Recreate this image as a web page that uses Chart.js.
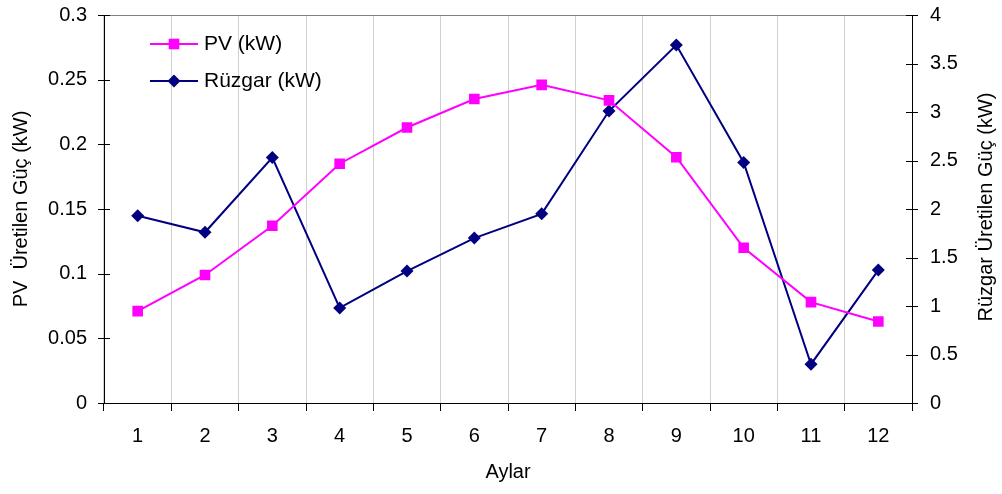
<!DOCTYPE html>
<html>
<head>
<meta charset="utf-8">
<script src="https://cdn.jsdelivr.net/npm/chart.js@4.4.1/dist/chart.umd.min.js"></script>
<style>
  body { margin: 0; background: #fff; }
  #kutu { width: 1002px; height: 494px; }
</style>
</head>
<body>
<div id="kutu"><canvas id="grafik"></canvas></div>
<script>
var aylar = ["1", "2", "3", "4", "5", "6", "7", "8", "9", "10", "11", "12"];
var pvGuc = [0.071, 0.099, 0.137, 0.185, 0.213, 0.235, 0.246, 0.234, 0.190, 0.120, 0.078, 0.063];
var ruzgarGuc = [1.93, 1.76, 2.53, 0.98, 1.36, 1.70, 1.95, 3.01, 3.69, 2.48, 0.40, 1.37];

var yazi = '"Liberation Sans", Arial, sans-serif';
Chart.defaults.font.family = yazi;
Chart.defaults.font.size = 20;
Chart.defaults.color = "#000";

function sayiYaz(v) {
    return String(parseFloat(Number(v).toFixed(2)));
}

// legend inside plot, right axis title, y tick marks (both sides), top frame line
var ekler = {
    id: "ekler",
    afterDraw: function (chart) {
        var ctx = chart.ctx;
        var alan = chart.chartArea;
        ctx.save();

        ctx.strokeStyle = "#808080";
        ctx.lineWidth = 1;
        ctx.beginPath();
        ctx.moveTo(alan.left, alan.top + 0.5);
        ctx.lineTo(alan.right, alan.top + 0.5);
        ctx.stroke();

        ctx.strokeStyle = "#000";
        ["y", "y1"].forEach(function (id) {
            var s = chart.scales[id];
            var x = id === "y" ? alan.left : alan.right;
            s.ticks.forEach(function (t, i) {
                var py = Math.round(s.getPixelForTick(i)) + 0.5;
                ctx.beginPath();
                ctx.moveTo(x - 6, py);
                ctx.lineTo(x + 6, py);
                ctx.stroke();
            });
        });

        chart.data.datasets.forEach(function (ds, i) {
            var y = alan.top + 29 + i * 37;
            var x0 = alan.left + 46;
            ctx.strokeStyle = ds.borderColor;
            ctx.lineWidth = 2;
            ctx.beginPath();
            ctx.moveTo(x0, y);
            ctx.lineTo(x0 + 48, y);
            ctx.stroke();
            ctx.fillStyle = ds.backgroundColor;
            Chart.helpers.drawPoint(ctx, { pointStyle: ds.pointStyle, radius: ds.pointRadius, borderWidth: 0 }, x0 + 24, y);
            ctx.fillStyle = "#000";
            ctx.font = "21px " + yazi;
            ctx.textAlign = "left";
            ctx.textBaseline = "middle";
            ctx.fillText(ds.label, x0 + 54, y);
        });

        ctx.translate(986, 207);
        ctx.rotate(-Math.PI / 2);
        ctx.textAlign = "center";
        ctx.textBaseline = "middle";
        ctx.fillStyle = "#000";
        ctx.font = "20px " + yazi;
        ctx.fillText("Rüzgar Üretilen Güç (kW)", 0, 0);
        ctx.restore();
    }
};

var ctx = document.getElementById("grafik").getContext("2d");
var grafik = new Chart(ctx, {
    type: "line",
    data: {
        labels: aylar,
        datasets: [
            {
                label: "PV (kW)",
                data: pvGuc,
                yAxisID: "y",
                borderColor: "#ff00ff",
                backgroundColor: "#ff00ff",
                borderWidth: 2,
                pointStyle: "rect",
                pointRadius: 7.5,
                pointBorderWidth: 0,
                tension: 0
            },
            {
                label: "Rüzgar (kW)",
                data: ruzgarGuc,
                yAxisID: "y1",
                borderColor: "#000080",
                backgroundColor: "#000080",
                borderWidth: 2,
                pointStyle: "rectRot",
                pointRadius: 6.5,
                pointBorderWidth: 0,
                tension: 0
            }
        ]
    },
    options: {
        responsive: true,
        maintainAspectRatio: false,
        animation: false,
        layout: { padding: { top: 15, left: 0, right: 0, bottom: 0 } },
        plugins: {
            legend: { display: false },
            tooltip: { enabled: false }
        },
        scales: {
            x: {
                offset: true,
                grid: { offset: true, color: "#d0d0d0", tickColor: "#000", tickLength: 8 },
                border: { color: "#000", width: 1 },
                ticks: { padding: 13, maxRotation: 0 },
                title: { display: true, text: "Aylar", padding: { top: 2, bottom: 10 } },
                afterFit: function (s) { s.height = 91; }
            },
            y: {
                position: "left",
                min: 0,
                max: 0.3,
                ticks: { stepSize: 0.05, padding: 0, callback: sayiYaz },
                grid: { drawOnChartArea: false, tickColor: "rgba(0,0,0,0)", tickLength: 17 },
                border: { color: "#000", width: 1 },
                title: { display: true, text: "PV  Üretilen Güç (kW)", padding: { top: 9, bottom: 0 } },
                afterFit: function (s) { s.width = 104; }
            },
            y1: {
                position: "right",
                min: 0,
                max: 4,
                ticks: { stepSize: 0.5, padding: 0, callback: sayiYaz },
                grid: { drawOnChartArea: false, tickColor: "rgba(0,0,0,0)", tickLength: 18 },
                border: { color: "#000", width: 1 },
                afterFit: function (s) { s.width = 90; }
            }
        }
    },
    plugins: [ekler]
});
</script>
</body>
</html>
